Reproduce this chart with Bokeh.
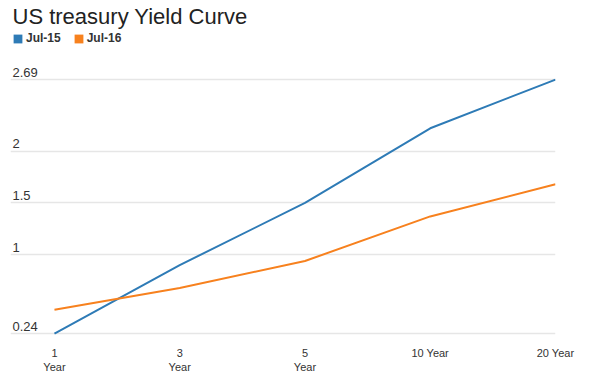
from bokeh.plotting import figure
from bokeh.models import (Range1d, FixedTicker, Legend, LegendItem, ColumnDataSource,
                          LabelSet)
from bokeh.core.properties import value
from bokeh.embed import file_html
from bokeh.resources import INLINE

# ---- data ----
maturities = ["1\nYear", "3\nYear", "5\nYear", "10 Year", "20 Year"]
jul15 = [0.24, 0.90, 1.50, 2.22, 2.69]
jul16 = [0.47, 0.68, 0.94, 1.37, 1.68]
y_ticks = [0.24, 1, 1.5, 2, 2.69]
y_tick_labels = ["0.24", "1", "1.5", "2", "2.69"]
series_names = ["Jul-15", "Jul-16"]
colors = ["#2e7bb6", "#f7811e"]

FONT = "Liberation Sans"
xs = list(range(len(maturities)))

p = figure(width=611, height=382, output_backend="svg", toolbar_location=None,
           x_range=Range1d(-0.351, len(maturities) - 1),
           y_range=Range1d(0.173, 3.173),
           min_border_left=10, min_border_right=56, min_border_top=28, min_border_bottom=42)
p.outline_line_color = None
p.xgrid.grid_line_color = None
p.ygrid.grid_line_color = "#e6e6e6"
p.ygrid.grid_line_width = 1.5
p.ygrid.ticker = FixedTicker(ticks=y_ticks)

p.title.text = "US treasury Yield Curve"
p.title.text_font = FONT
p.title.text_font_size = "22px"
p.title.text_font_style = "normal"
p.title.text_color = "#222222"
p.title.offset = 2
p.title.standoff = 2

# x axis
p.xaxis.ticker = FixedTicker(ticks=xs)
p.xaxis.major_label_overrides = {i: lab for i, lab in enumerate(maturities)}
p.xaxis.axis_line_color = None
p.xaxis.major_tick_line_color = None
p.xaxis.minor_tick_line_color = None
p.xaxis.major_label_text_font = FONT
p.xaxis.major_label_text_font_size = "11px"
p.xaxis.major_label_text_color = "#333333"
p.xaxis.major_label_standoff = 0
p.yaxis.visible = False

# lines
p.line(xs, jul15, line_color=colors[0], line_width=2)
p.line(xs, jul16, line_color=colors[1], line_width=2)

# y tick labels inside the plot, above gridlines
ysrc = ColumnDataSource(dict(y=y_ticks, t=y_tick_labels))
p.add_layout(LabelSet(x=2, y="y", x_units="screen", text="t", source=ysrc,
                      y_offset=3, text_font=value(FONT), text_font_size="13px",
                      text_color="#333333", text_baseline="bottom"))

# legend squares (boxes with no drawable position; they only feed the legend)
nan = float("nan")
box = dict(left=[nan], right=[nan], top=[nan], bottom=[nan])
q1 = p.quad(source=ColumnDataSource(box), fill_color=colors[0], line_color=None)
q2 = p.quad(source=ColumnDataSource(box), fill_color=colors[1], line_color=None)
legend = Legend(items=[LegendItem(label=series_names[0], renderers=[q1]),
                       LegendItem(label=series_names[1], renderers=[q2])],
                orientation="horizontal", location="top_left",
                label_text_font=FONT, label_text_font_size="12px",
                label_text_font_style="bold", label_text_color="#333333",
                glyph_width=11, glyph_height=11, label_standoff=3, spacing=12,
                padding=0, margin=2, border_line_color=None,
                background_fill_alpha=0, label_height=14)
p.add_layout(legend)

open("out.html", "w").write(file_html(p, INLINE))
